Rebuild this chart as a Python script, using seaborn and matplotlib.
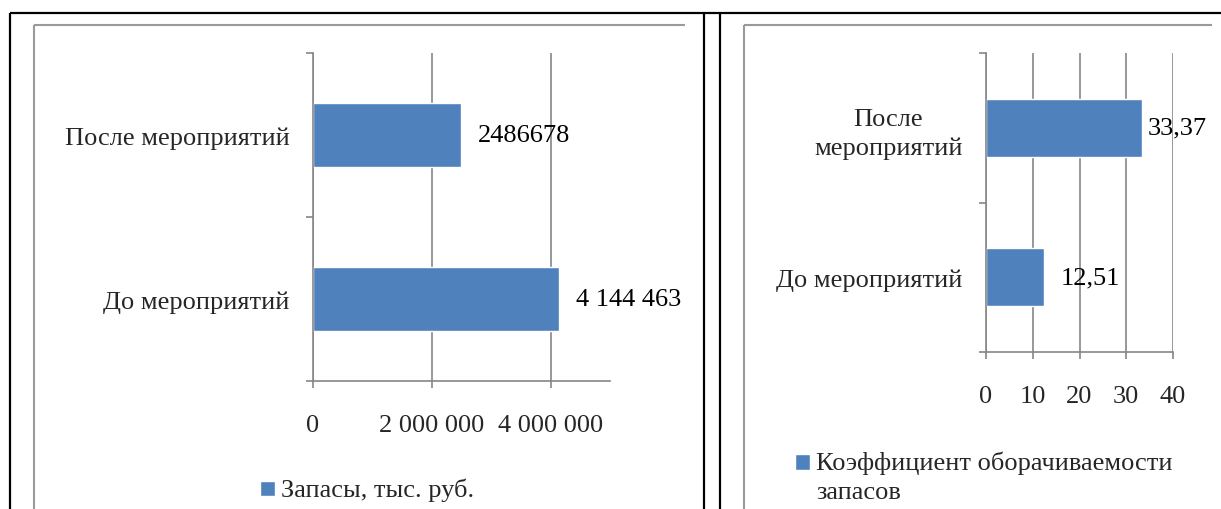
import matplotlib
matplotlib.use("Agg")
import matplotlib.pyplot as plt
from matplotlib.lines import Line2D
from matplotlib.patches import Rectangle
from matplotlib.legend_handler import HandlerPatch
import seaborn as sns
import pandas as pd

# ---- data ----
categories = ["После мероприятий", "До мероприятий"]
categories_right = ["После\nмероприятий", "До мероприятий"]
stock_values = [2486678, 4144463]
stock_labels = ["2486678", "4 144 463"]
stock_series = "Запасы, тыс. руб."
stock_ticks = [0, 2000000, 4000000]
stock_tick_labels = ["0", "2 000 000", "4 000 000"]
stock_xmax = 5000000

turn_values = [33.37, 12.51]
turn_labels = ["33,37", "12,51"]
turn_series = "Коэффициент оборачиваемости\nзапасов"
turn_ticks = [0, 10, 20, 30, 40]
turn_tick_labels = ["0", "10", "20", "30", "40"]
turn_xmax = 40

# ---- style ----
sns.set_theme(style="white")
plt.rcParams["font.family"] = ["Liberation Serif", "DejaVu Serif"]
W, H = 1221, 510
DPI = 100
BAR = "#4F81BD"
AXC = "#868686"
FS = 19
LS = 1.4

fig = plt.figure(figsize=(W / DPI, H / DPI), dpi=DPI)
fig.patch.set_facecolor("white")


def fx(px):
    return px / W


def fy(py):
    return 1 - py / H


def fig_line(xs, ys, color, lw):
    fig.add_artist(Line2D([fx(x) for x in xs], [fy(y) for y in ys],
                          transform=fig.transFigure, color=color, lw=lw,
                          solid_capstyle="butt"))


# table frame (black)
fig_line([10, 1221], [14, 14], "black", 1.6)
fig_line([10, 10], [14, 510], "black", 1.6)
fig_line([704, 704], [14, 510], "black", 1.6)
fig_line([720, 720], [14, 510], "black", 1.6)
# chart borders (gray)
fig_line([34, 685], [26, 26], "#9a9a9a", 1.5)
fig_line([34, 34], [26, 510], "#9a9a9a", 1.5)
fig_line([744, 1212], [26, 26], "#9a9a9a", 1.5)
fig_line([744, 744], [26, 510], "#9a9a9a", 1.5)


def square_handler(shift_pt):
    def f(legend, orig_handle, xdescent, ydescent, width, height, fontsize):
        return Rectangle((-xdescent, -ydescent + shift_pt), width, height)
    return HandlerPatch(patch_func=f)


annotations = []


def make_panel(rect_px, cats, values, labels, series, ticks, tick_labels,
               xmax, legend_xy, handle_shift, label_limit):
    x0, x1, ytop, ybot = rect_px
    ax = fig.add_axes([fx(x0), fy(ybot), fx(x1 - x0), (ybot - ytop) / H])
    df = pd.DataFrame({"cat": cats, "val": values, "series": series})
    sns.barplot(data=df, x="val", y="cat", hue="series", orient="h",
                palette=[BAR], saturation=1, width=0.39, ax=ax,
                order=cats, legend=True)
    ax.set_xlim(0, xmax)
    ax.set_ylim(1.5, -0.5)
    ax.set_xlabel("")
    ax.set_ylabel("")
    for s in ["top", "right"]:
        ax.spines[s].set_visible(False)
    for s in ["left", "bottom"]:
        ax.spines[s].set_color(AXC)
        ax.spines[s].set_linewidth(1.2)
    ax.set_xticks(ticks)
    ax.set_xticklabels(tick_labels, fontsize=FS)
    ax.xaxis.grid(True, color=AXC, lw=1.2)
    ax.set_axisbelow(True)
    ax.tick_params(axis="x", direction="out", length=5, width=1.2,
                   color=AXC, pad=19, bottom=True)
    # category boundaries as major ticks, labels as minor ticks
    ax.set_yticks([-0.5, 0.5, 1.5])
    ax.set_yticklabels(["", "", ""])
    ax.set_yticks([0, 1], minor=True)
    ax.set_yticklabels(cats, minor=True, fontsize=FS, multialignment="center",
                       linespacing=LS)
    ax.tick_params(axis="y", which="major", direction="out", length=5,
                   width=1.2, color=AXC, left=True)
    ax.tick_params(axis="y", which="minor", length=0, pad=17)
    for i, (v, lab) in enumerate(zip(values, labels)):
        ann = ax.annotate(lab, xy=(v, i), xytext=(12, 0),
                          textcoords="offset points", ha="left", va="center",
                          fontsize=FS, color="black")
        annotations.append((ann, label_limit))
    handles = ax.get_legend().legend_handles
    sns.move_legend(ax, loc="center left",
                    bbox_to_anchor=(fx(legend_xy[0]), fy(legend_xy[1])),
                    bbox_transform=fig.transFigure, frameon=False, title=None,
                    fontsize=FS, handlelength=0.55, handleheight=0.55,
                    handletextpad=0.25, borderpad=0, borderaxespad=0,
                    handler_map={h: square_handler(handle_shift) for h in handles})
    for t in ax.get_legend().get_texts():
        t.set_linespacing(LS)
    return ax


make_panel((313, 610, 54, 382), categories, stock_values, stock_labels,
           stock_series, stock_ticks, stock_tick_labels, stock_xmax,
           (260, 490), -1.5, 685)
make_panel((986, 1173, 54, 353), categories_right, turn_values, turn_labels,
           turn_series, turn_ticks, turn_tick_labels, turn_xmax,
           (795, 478), 10, 1212)

# Excel pulls a data label back towards the bar when it would cross the chart border
fig.canvas.draw()
renderer = fig.canvas.get_renderer()
for ann, limit in annotations:
    bb = ann.get_window_extent(renderer)
    if bb.x1 > limit:
        ann.xyann = (4, 0)

fig.savefig("out.png", dpi=DPI, facecolor="white")
